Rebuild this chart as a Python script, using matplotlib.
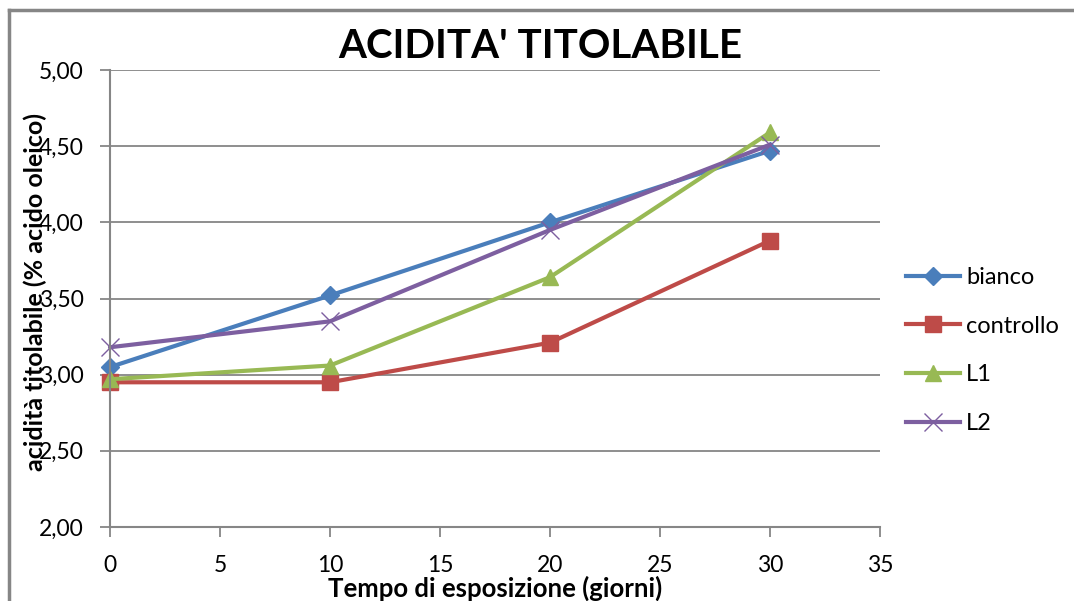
import matplotlib
matplotlib.use("Agg")
import matplotlib.pyplot as plt
from matplotlib.lines import Line2D
from matplotlib.ticker import FuncFormatter

plt.rcParams['font.family'] = ['Lato', 'DejaVu Sans']

days = [0, 10, 20, 30]
bianco = [3.05, 3.52, 4.00, 4.47]
controllo = [2.95, 2.95, 3.21, 3.88]
L1 = [2.97, 3.06, 3.64, 4.59]
L2 = [3.18, 3.35, 3.95, 4.51]
series_names = ["bianco", "controllo", "L1", "L2"]
title = "ACIDITA' TITOLABILE"
xlabel = "Tempo di esposizione (giorni)"
ylabel = "acidità titolabile (% acido oleico)"

colors = ["#4a7ebb", "#be4b48", "#98b954", "#7d5fa0"]
markers = ["D", "s", "^", "x"]
msizes = [9, 11, 11, 13]

fig = plt.figure(figsize=(10.74, 6.01), dpi=100)
ax = fig.add_axes([110/1074, 1-527/601, (880-110)/1074, (527-70)/601])

for name, vals, c, m, ms in zip(series_names, [bianco, controllo, L1, L2], colors, markers, msizes):
    kw = dict(markeredgecolor=c, markerfacecolor=c)
    if m == "x":
        kw["markeredgewidth"] = 1.0
    ax.plot(days, vals, color=c, lw=3.0, marker=m, markersize=ms, label=name,
            solid_capstyle='round', clip_on=False, **kw)

ax.set_xlim(0, 35)
ax.set_ylim(2.0, 5.0)
ax.set_xticks(range(0, 36, 5))
ax.set_yticks([2.0, 2.5, 3.0, 3.5, 4.0, 4.5, 5.0])
ax.yaxis.set_major_formatter(FuncFormatter(lambda v, p: f"{v:.2f}".replace(".", ",")))
ax.grid(axis='y', color='#868686', lw=1.3)
ax.set_axisbelow(True)
for s in ['top', 'right']:
    ax.spines[s].set_visible(False)
for s in ['left', 'bottom']:
    ax.spines[s].set_color('#868686')
    ax.spines[s].set_linewidth(1.5)
ax.tick_params(axis='both', colors='#868686', length=7, width=1.3, labelsize=16.5, labelcolor='black')
ax.tick_params(axis='x', pad=13)
ax.tick_params(axis='y', pad=12)

fig.text(540/1074, 1-47/601, title, ha='center', va='center', fontsize=29, fontweight='bold')
fig.text(495/1074, 1-588/601, xlabel, ha='center', va='center', fontsize=18.5, fontweight='bold')
fig.text(35/1074, 1-292/601, ylabel, ha='center', va='center', fontsize=18, fontweight='bold', rotation=90)

handles = [Line2D([0], [0], color=c, lw=3.0, marker=m, markersize=ms, markeredgecolor=c, markerfacecolor=c,
                  markeredgewidth=1.0)
           for c, m, ms in zip(colors, markers, msizes)]
leg = fig.legend(handles, series_names, loc='upper left', bbox_to_anchor=(887/1074, 1-248/601),
                 frameon=False, fontsize=17, handlelength=2.3, labelspacing=1.17, handletextpad=0.25,
                 borderpad=0.3)

# outer frame
fig.add_artist(Line2D([9/1074, 9/1074], [0, 1-10/601], color='#868686', lw=2.5))
fig.add_artist(Line2D([9/1074, 1], [1-10/601, 1-10/601], color='#868686', lw=2.5))

fig.savefig("out.png", dpi=100)
